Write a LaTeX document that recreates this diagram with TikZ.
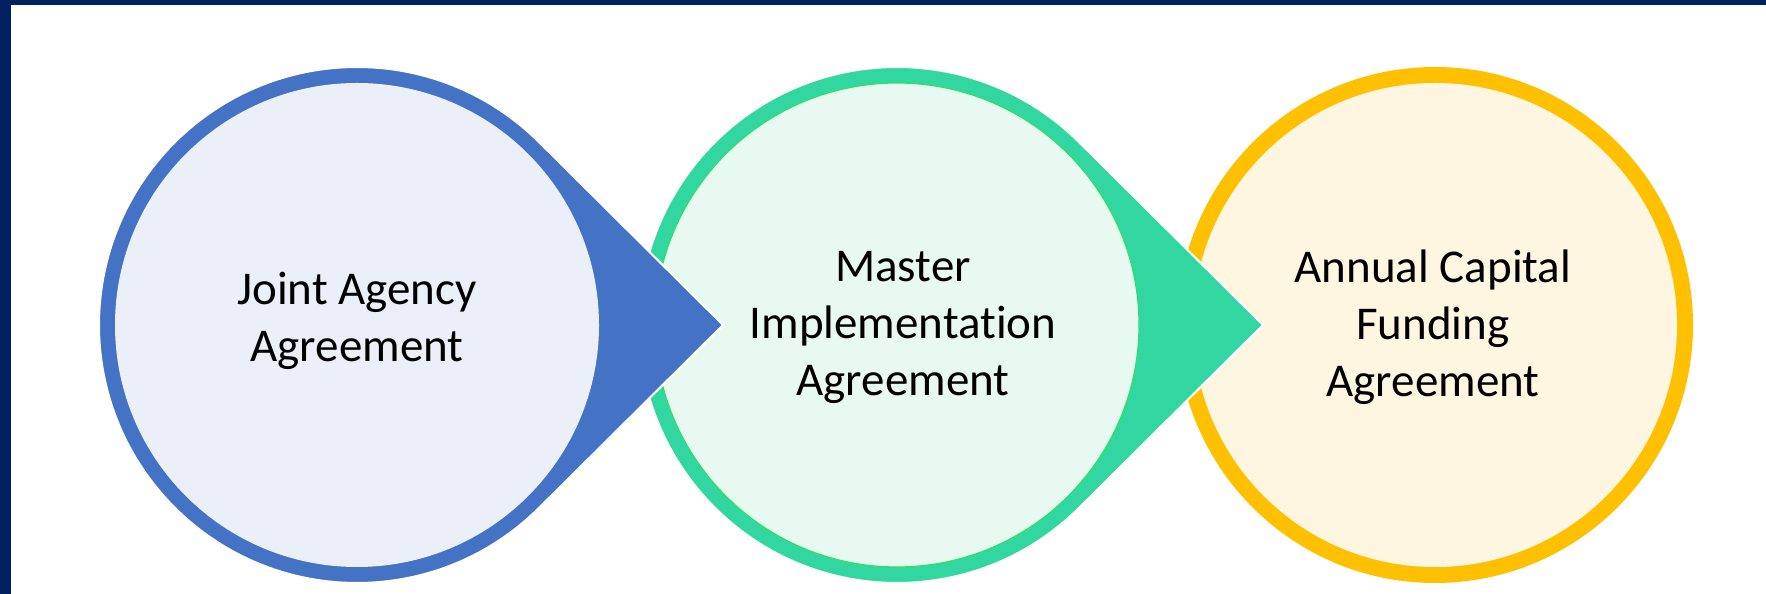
\documentclass[tikz,border=0pt]{standalone}
\usepackage{fontspec}
\setmainfont{Carlito}[RawFeature=-liga]
\usepackage{tikz}
\usetikzlibrary{calc}

\definecolor{framenavy}{HTML}{002060}
\definecolor{jaablue}{HTML}{4472C4}
\definecolor{jaafill}{HTML}{EAEFF8}
\definecolor{miagreen}{HTML}{32D6A0}
\definecolor{miaedge}{HTML}{2EE06A}
\definecolor{miafill}{HTML}{E8F9F2}
\definecolor{acfayellow}{HTML}{FFC000}
\definecolor{acfafill}{HTML}{FFF6E2}

\tikzset{
  drop/.style={draw=white, line width=1pt},
  agreement/.style={align=center, text=black, font=\fontsize{23.5}{28.5}\selectfont},
}

% teardrop: centre, ring colour
\newcommand{\agreementdrop}[2]{%
  \fill[#2, drop] ($(#1)+(366,0)$) -- ($(#1)+(45.2:258)$)
    arc[start angle=45.2, end angle=314.8, radius=258] -- cycle;
}

\begin{document}
\begin{tikzpicture}[x=0.5pt, y=0.5pt]
  \useasboundingbox (0,0) rectangle (1766,594);
  \fill[white] (0,0) rectangle (1766,594);
  \fill[framenavy] (0,589) rectangle (1766,594);
  \fill[framenavy] (0,0) rectangle (11,594);

  \coordinate (c1) at (357,269);
  \coordinate (c2) at (897,269);
  \coordinate (c3) at (1435,269);

  % third step
  \fill[acfayellow] (c3) circle[radius=258];
  \fill[acfafill] (c3) circle[radius=242];
  % second step
  \agreementdrop{c2}{miagreen}
  \fill[miafill, draw=miaedge, line width=0.6pt] (c2) circle[radius=242];
  % first step
  \agreementdrop{c1}{jaablue}
  \fill[jaafill] (c1) circle[radius=242];

  \node[agreement] (jaa) at ($(c1)+(0,4)$) {Joint Agency\\Agreement};
  \node[agreement] (mia) at ($(c2)+(6,-2)$) {Master\\Implementation\\Agreement};
  \node[agreement] (acfa) at ($(c3)+(-2,-2)$) {Annual Capital\\Funding\\Agreement};
\end{tikzpicture}
\end{document}
